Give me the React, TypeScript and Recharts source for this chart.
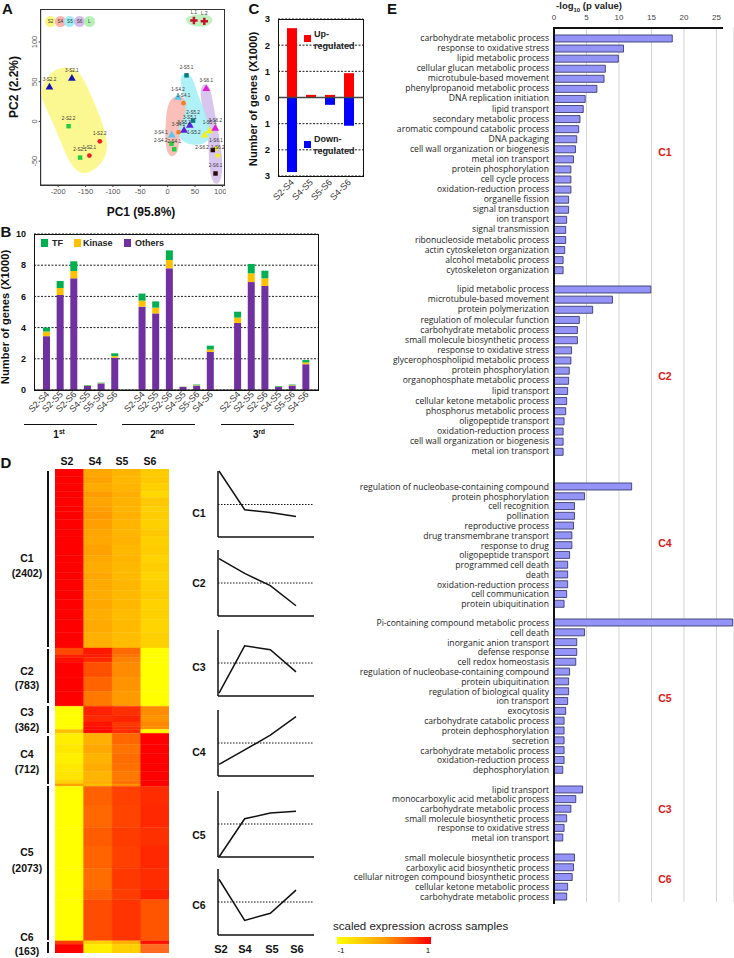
import type { CSSProperties, ReactNode } from "react";
import {
  Bar,
  BarChart,
  CartesianGrid,
  Cell,
  Curve,
  Line,
  LineChart,
  ReferenceLine,
  Scatter,
  ScatterChart,
  Symbols,
  LabelList,
  XAxis,
  YAxis,
} from "recharts";

const SANS = "'Liberation Sans', Arial, sans-serif";
const LABEL_FONT = "'Open Sans', sans-serif";

// Panel A, PCA samples
const s2BlueTriangles = [
  { name: "3-S2.1", x: -175, y: 54 },
  { name: "3-S2.2", x: -216, y: 43 },
];
const greenSquares = [
  { name: "2-S2.2", x: -181, y: -6 },
  { name: "2-S2.1", x: -160, y: -45.5 },
  { name: "2-S4.2", x: 7, y: -28 },
  { name: "2-S4.1", x: 12, y: -35 },
];
const redCircles = [
  { name: "1-S2.2", x: -124, y: -25 },
  { name: "1-S2.1", x: -143, y: -43 },
];
const s4CyanTriangles = [
  { name: "1-S4.2", x: 19, y: 30 },
  { name: "3-S4.1", x: 7.5, y: -17.5 },
];
const s4OrangeCircles = [
  { name: "1-S4.1", x: 29, y: 23 },
  { name: "3-S4.2", x: 20, y: -13.5 },
];
const s5TealSquares = [
  { name: "2-S5.1", x: 34.5, y: 58 },
  { name: "2-S5.2", x: 46.5, y: 1 },
];
const s5PurpleTriangles = [
  { name: "3-S5.1", x: 40.5, y: -5 },
  { name: "3-S5.2", x: 30, y: -11.5 },
];
const s5YellowTriangles = [
  { name: "1-S5.1", x: 76.5, y: -12 },
  { name: "1-S5.2", x: 67.5, y: -17.5 },
];
const s6MagentaTriangles = [
  { name: "3-S6.1", x: 70.5, y: 41 },
  { name: "3-S6.2", x: 87, y: -9 },
];
const s6YellowCircles = [
  { name: "1-S6.1", x: 88.5, y: -34 },
  { name: "1-S6.2", x: 91.5, y: -43 },
];
const s6DarkSquares = [
  { name: "2-S6.2", x: 82.5, y: -36 },
  { name: "2-S6.1", x: 87.5, y: -65.5 },
];
const leafMarks = [
  { name: "L.1", x: 48, y: 127 },
  { name: "L.2", x: 67, y: 126 },
];
const leftLabelled = ["3-S4.1", "2-S4.2", "2-S6.2", "1-S5.2"];

const s2Hull = [
  { x: -232, y: 44 }, { x: -205, y: 70 }, { x: -165, y: 68 }, { x: -148, y: 46 }, { x: -114, y: -8 },
  { x: -105, y: -45 }, { x: -150, y: -72 }, { x: -180, y: -55 }, { x: -202, y: -12 }, { x: -232, y: 29 },
];
const s4Hull = [
  { x: 3, y: 29 }, { x: 24, y: 35 }, { x: 42, y: 21 }, { x: 21, y: -12 }, { x: 21, y: -41 },
  { x: 3, y: -47 }, { x: -6, y: -28 }, { x: -3, y: 9 },
];
const s5Hull = [
  { x: 18, y: 60 }, { x: 45, y: 62 }, { x: 54, y: 33 }, { x: 84, y: -12 }, { x: 72, y: -30 },
  { x: 30, y: -30 }, { x: 12, y: -12 }, { x: 36, y: 9 }, { x: 30, y: 33 },
];
const s6Hull = [
  { x: 60, y: 48 }, { x: 78, y: 48 }, { x: 84, y: 17 }, { x: 102, y: -45 }, { x: 99, y: -80 },
  { x: 78, y: -80 }, { x: 75, y: -36 }, { x: 72, y: -4 }, { x: 60, y: 25 },
];
const leafHull = [
  { x: 33, y: 133 }, { x: 72, y: 136 }, { x: 87, y: 128 }, { x: 72, y: 118 }, { x: 42, y: 120 }, { x: 33, y: 126 },
];
const pcaXTicks = [-200, -150, -100, -50, 0, 50, 100];
const pcaYTicks = [-50, 0, 50, 100];
const hullNames = ["S2", "S4", "S5", "S6", "L"];
const hullColors = ["#fbf77e", "#f8b4ac", "#a2eef6", "#d2bcec", "#b4f0b4"];

// Panel B, differentially expressed genes per comparison
const comparisons = ["S2-S4", "S2-S5", "S2-S6", "S4-S5", "S5-S6", "S4-S6"];
const others = [3.45, 6.09, 7.16, 0.27, 0.42, 2.07, 0, 5.34, 4.91, 7.8, 0.2, 0.28, 2.44, 0, 4.3, 6.92, 6.67, 0.2, 0.28, 1.65];
const kinase = [0.3, 0.45, 0.47, 0.02, 0.02, 0.1, 0, 0.39, 0.37, 0.53, 0.01, 0.03, 0.16, 0, 0.34, 0.56, 0.49, 0.02, 0.03, 0.12];
const tf = [0.25, 0.45, 0.62, 0.03, 0.03, 0.18, 0, 0.45, 0.4, 0.62, 0.01, 0.04, 0.24, 0, 0.38, 0.6, 0.49, 0.04, 0.04, 0.15];
const replicateLabels = [...comparisons, "", ...comparisons, "", ...comparisons];
const deData = replicateLabels.map((name, i) => ({ name, others: others[i], kinase: kinase[i], tf: tf[i] }));

// Panel C
const pairNames = ["S2-S4", "S4-S5", "S5-S6", "S4-S6"];
const upRegulated = [2.65, 0.1, 0.1, 0.93];
const downRegulated = [-2.85, 0, -0.28, -1.08];
const regulationData = pairNames.map((name, i) => ({ name, up: upRegulated[i], down: downRegulated[i] }));

// Panel D, heatmap rows, sized in genes
const heatStages = ["S2", "S4", "S5", "S6"];
const c1Sizes = [100, 90, 110, 80, 120, 70, 110, 130, 90, 120, 140, 100, 130, 90, 150, 120, 140, 130, 170, 212];
const c1S4 = ["#ffa600", "#ffa200", "#ffac00", "#ff9c00", "#ffa400", "#ffa000", "#ff9a00", "#ffa000", "#ffa400", "#ffa800", "#ffa200", "#ffa800", "#ffac00", "#ffa600", "#ffaa00", "#ffac00", "#ffa800", "#ffae00", "#ffaa00", "#ffb000"];
const c1S5 = ["#ffb400", "#ffb800", "#ffb400", "#ffae00", "#ffb200", "#ffb400", "#ffb000", "#ffb400", "#ffb600", "#ffb200", "#ffb800", "#ffb400", "#ffb800", "#ffba00", "#ffb600", "#ffba00", "#ffb800", "#ffbc00", "#ffba00", "#ffbc00"];
const c1S6 = ["#ffcc00", "#ffc800", "#ffd000", "#ffd800", "#ffc800", "#ffd000", "#ffcc00", "#ffd000", "#ffc800", "#ffd000", "#ffcc00", "#ffd200", "#ffce00", "#ffd400", "#ffd000", "#ffcc00", "#ffd200", "#ffd000", "#ffd400", "#ffd000"];
const c1Rows = c1Sizes.map((size, i) => ({ size, colors: ["#ff0000", c1S4[i], c1S5[i], c1S6[i]] }));
const c2Rows = [
  { size: 90, colors: ["#ff4800", "#ff1800", "#ff6a00", "#ffff00"] },
  { size: 40, colors: ["#ff2000", "#ff1c00", "#ff7400", "#ffff00"] },
  { size: 60, colors: ["#ff1000", "#ff2800", "#ff8000", "#ffff00"] },
  { size: 200, colors: ["#ff0000", "#ff5000", "#ff8c00", "#ffff00"] },
  { size: 190, colors: ["#ff0000", "#ff6400", "#ff9400", "#ffff00"] },
  { size: 203, colors: ["#ff0000", "#ff7800", "#ff9a00", "#ffff00"] },
];
const c3Rows = [
  { size: 120, colors: ["#ffff00", "#ff2000", "#ff3000", "#ff8c00"] },
  { size: 90, colors: ["#ffff00", "#ff2800", "#ff2400", "#ff9400"] },
  { size: 60, colors: ["#ffff00", "#ff1400", "#ff3800", "#ff8800"] },
  { size: 40, colors: ["#ffff00", "#ff0c00", "#ff3000", "#ff9000"] },
  { size: 52, colors: ["#ffc000", "#ff0800", "#ff2c00", "#ffff00"] },
];
const c4Rows = [
  { size: 150, colors: ["#ffee00", "#ffb000", "#ff6800", "#ff0000"] },
  { size: 120, colors: ["#ffe800", "#ffa800", "#ff7400", "#ff0000"] },
  { size: 130, colors: ["#fff000", "#ffb400", "#ff6c00", "#ff0000"] },
  { size: 110, colors: ["#ffe800", "#ffac00", "#ff7000", "#ff0000"] },
  { size: 120, colors: ["#ffe400", "#ffb400", "#ff7800", "#ff0000"] },
  { size: 50, colors: ["#ffd000", "#ffb000", "#ff7000", "#ff0000"] },
  { size: 32, colors: ["#ffa000", "#ffc000", "#ff9000", "#ff0000"] },
];
const c5Rows = [
  { size: 250, colors: ["#ffff00", "#ff6000", "#ff4000", "#ff2c00"] },
  { size: 300, colors: ["#ffff00", "#ff6800", "#ff4400", "#ff2800"] },
  { size: 250, colors: ["#ffff00", "#ff5c00", "#ff3c00", "#ff3000"] },
  { size: 300, colors: ["#ffff00", "#ff6400", "#ff4000", "#ff2800"] },
  { size: 280, colors: ["#ffff00", "#ff6c00", "#ff3800", "#ff2c00"] },
  { size: 140, colors: ["#ffff00", "#ff6000", "#ff3c00", "#ff2000"] },
  { size: 553, colors: ["#ffff00", "#ff4c00", "#ff3400", "#ff5400"] },
];
const c6Rows = [
  { size: 45, colors: ["#ff4000", "#ffd000", "#ffb000", "#ff1000"] },
  { size: 118, colors: ["#ff0000", "#ffee00", "#ffd000", "#ff6a20"] },
];
const heatRows = [...c1Rows, ...c2Rows, ...c3Rows, ...c4Rows, ...c5Rows, ...c6Rows];
const heatData = heatStages.map((stage) => {
  const row: Record<string, number | string> = { stage };
  heatRows.forEach((r, i) => {
    row[`r${i}`] = r.size;
  });
  return row;
});
const geneTotal = 6495;

// Panel D, cluster trends
const trendStages = ["S2", "S4", "S5", "S6"];
const trendC1 = [1.03, -0.16, -0.25, -0.37];
const trendC2 = [0.74, 0.29, -0.08, -0.69];
const trendC3 = [-0.91, 0.52, 0.4, -0.27];
const trendC4 = [-0.65, -0.21, 0.24, 0.8];
const trendC5 = [-1.0, 0.16, 0.33, 0.39];
const trendC6 = [0.69, -0.56, -0.34, 0.36];

// Panel E, GO enrichment
const c1Terms = ["carbohydrate metabolic process", "response to oxidative stress", "lipid metabolic process", "cellular glucan metabolic process", "microtubule-based movement", "phenylpropanoid metabolic process", "DNA replication initiation", "lipid transport", "secondary metabolic process", "aromatic compound catabolic process", "DNA packaging", "cell wall organization or biogenesis", "metal ion transport", "protein phosphorylation", "cell cycle process", "oxidation-reduction process", "organelle fission", "signal transduction", "ion transport", "signal transmission", "ribonucleoside metabolic process", "actin cytoskeleton organization", "alcohol metabolic process", "cytoskeleton organization"];
const c1Scores = [18.2, 10.7, 9.9, 7.9, 7.7, 6.6, 4.8, 4.5, 4.0, 3.8, 3.5, 3.3, 3.0, 2.6, 2.6, 2.6, 2.25, 2.25, 1.95, 1.8, 1.8, 1.65, 1.4, 1.4];
const c2Terms = ["lipid metabolic process", "microtubule-based movement", "protein polymerization", "regulation of molecular function", "carbohydrate metabolic process", "small molecule biosynthetic process", "response to oxidative stress", "glycerophospholipid metabolic process", "protein phosphorylation", "organophosphate metabolic process", "lipid transport", "cellular ketone metabolic process", "phosphorus metabolic process", "oligopeptide transport", "oxidation-reduction process", "cell wall organization or biogenesis", "metal ion transport"];
const c2Scores = [14.9, 9.0, 5.95, 3.9, 3.6, 3.6, 2.7, 2.6, 2.35, 2.25, 2.1, 1.95, 1.8, 1.55, 1.4, 1.4, 1.4];
const c4Terms = ["regulation of nucleobase-containing compound", "protein phosphorylation", "cell recognition", "pollination", "reproductive process", "drug transmembrane transport", "response to drug", "oligopeptide transport", "programmed cell death", "death", "oxidation-reduction process", "cell communication", "protein ubiquitination"];
const c4Scores = [11.95, 4.7, 3.15, 3.15, 3.0, 2.75, 2.75, 2.4, 2.1, 2.1, 2.1, 1.95, 1.55];
const c5Terms = ["Pi-containing compound metabolic process", "cell death", "inorganic anion transport", "defense response", "cell redox homeostasis", "regulation of nucleobase-containing compound", "protein ubiquitination", "regulation of biological quality", "ion transport", "exocytosis", "carbohydrate catabolic process", "protein dephosphorylation", "secretion", "carbohydrate metabolic process", "oxidation-reduction process", "dephosphorylation"];
const c5Scores = [27.5, 4.7, 3.5, 3.5, 3.35, 2.4, 2.25, 2.25, 2.1, 1.8, 1.55, 1.55, 1.55, 1.55, 1.55, 1.35];
const c3Terms = ["lipid transport", "monocarboxylic acid metabolic process", "carbohydrate metabolic process", "small molecule biosynthetic process", "response to oxidative stress", "metal ion transport"];
const c3Scores = [4.4, 3.35, 2.6, 1.95, 1.55, 1.35];
const c6Terms = ["small molecule biosynthetic process", "carboxylic acid biosynthetic process", "cellular nitrogen compound biosynthetic process", "cellular ketone metabolic process", "carbohydrate metabolic process"];
const c6Scores = [3.15, 3.0, 2.8, 2.1, 1.95];
const enrichTicks = [0, 5, 10, 15, 20, 25];
const enrichMax = 27.7;

function T({ x, y, size, bold, color, rotate, family, children, anchor }: {
  x: number; y: number; size: number; bold?: boolean; color?: string; rotate?: number; family?: string; anchor?: "start" | "middle"; children: ReactNode;
}) {
  const shift = anchor === "start" ? "translate(0,-50%)" : "translate(-50%,-50%)";
  const style: CSSProperties = {
    position: "absolute", left: x, top: y, fontSize: size, fontWeight: bold ? 700 : 400,
    color: color ?? "#111", fontFamily: family ?? SANS, whiteSpace: "nowrap", lineHeight: 1,
    transform: `${shift}${rotate ? ` rotate(${rotate}deg)` : ""}`,
  };
  return <div style={style}>{children}</div>;
}

function Box({ x, y, w, h, color, border }: { x: number; y: number; w: number; h: number; color?: string; border?: string }) {
  return (
    <div style={{ position: "absolute", left: x, top: y, width: w, height: h, background: color, border, boxSizing: "border-box" }} />
  );
}

const hullShape = (fill: string) => (props: any) =>
  <Curve points={props.points} type="basisClosed" fill={fill} fillOpacity={0.85} stroke="none" />;

const markShape = (type: any, fill: string, size: number) => (props: any) =>
  <Symbols cx={props.cx} cy={props.cy} type={type} size={size} fill={fill} />;

function pointLabel(props: any) {
  const { x, y, width, value } = props;
  const cx = x + (width ?? 0) / 2;
  const left = leftLabelled.includes(value);
  return (
    <text x={left ? cx - 4 : cx} y={left ? y + 3 : y - 2} fontSize={4.6} fill="#333" textAnchor={left ? "end" : "middle"} fontFamily={SANS}>
      {value}
    </text>
  );
}

function angledTick(props: any) {
  const { x, y, payload } = props;
  return (
    <text x={x + 3} y={y + 4} fontSize={9} fill="#333" fontFamily={SANS} textAnchor="end" transform={`rotate(-45 ${x + 3} ${y + 4})`}>
      {payload.value}
    </text>
  );
}

function PcaPanel() {
  const series: [any[], string, string, number][] = [
    [s2BlueTriangles, "#1414b4", "triangle", 26],
    [greenSquares, "#20d040", "square", 20],
    [redCircles, "#ee1c25", "circle", 18],
    [s4CyanTriangles, "#55c8ee", "triangle", 26],
    [s4OrangeCircles, "#f58220", "circle", 18],
    [s5TealSquares, "#0a7a7a", "square", 20],
    [s5PurpleTriangles, "#5a20dc", "triangle", 26],
    [s5YellowTriangles, "#f0f020", "triangle", 26],
    [s6MagentaTriangles, "#e020d0", "triangle", 26],
    [s6YellowCircles, "#f0f020", "circle", 18],
    [s6DarkSquares, "#2a0a0a", "square", 20],
    [leafMarks, "#c8102e", "cross", 30],
  ];
  const hulls = [s2Hull, s4Hull, s6Hull, s5Hull, leafHull];
  const hullFills = [hullColors[0], hullColors[1], hullColors[3], hullColors[2], hullColors[4]];
  return (
    <div style={{ position: "absolute", left: 0, top: 0 }}>
      <ScatterChart width={226} height={210} margin={{ top: 9, right: 2, bottom: 0, left: 0 }}>
        <XAxis type="number" dataKey="x" domain={[-227.6, 103]} ticks={pcaXTicks} height={25} tickSize={2}
          tick={{ fontSize: 7.5, fill: "#555", fontFamily: SANS }} stroke="#333" />
        <YAxis type="number" dataKey="y" domain={[-75.5, 141.5]} ticks={pcaYTicks} width={40.7} tickSize={2}
          tick={{ fontSize: 7.5, fill: "#555", fontFamily: SANS, angle: -90, textAnchor: "middle", dx: -2 }} stroke="#333" />
        {hulls.map((data, i) => (
          <Scatter key={`hull${i}`} data={data} isAnimationActive={false} shape={() => <g />} line={hullShape(hullFills[i])} />
        ))}
        {series.map(([data, fill, shape, size], i) => (
          <Scatter key={`pts${i}`} data={data} fill={fill} shape={markShape(shape, fill, size)} isAnimationActive={false}>
            <LabelList dataKey="name" content={pointLabel} />
          </Scatter>
        ))}
      </ScatterChart>
      <Box x={40} y={9} w={184.5} h={176.5} border="1.5px solid #333" />
      {hullNames.map((name, i) => (
        <div key={name} style={{
          position: "absolute", left: 45 + i * 9.7, top: 15.5, width: 11, height: 11, borderRadius: 6,
          background: hullColors[i], fontSize: 4.6, lineHeight: "11px", textAlign: "center", fontFamily: SANS, color: "#333",
        }}>{name}</div>
      ))}
      <T x={141} y={212} size={12} bold>PC1 (95.8%)</T>
      <T x={14} y={87} size={12} bold rotate={-90}>PC2 (2.2%)</T>
    </div>
  );
}

function DePanel() {
  return (
    <div style={{ position: "absolute", left: 0, top: 224 }}>
      <BarChart width={322} height={206} data={deData} margin={{ top: 10, right: 4, bottom: 0, left: 0 }} barSize={7}>
        <CartesianGrid vertical={false} stroke="#000" strokeDasharray="2 1.5" strokeWidth={0.9} />
        <XAxis dataKey="name" interval={0} height={40} tickLine={false} tickSize={0} padding={{ left: 6, right: 5 }} stroke="#222"
          tick={angledTick} tickMargin={1} />
        <YAxis domain={[0, 10]} ticks={[0, 2, 4, 6, 8, 10]} width={34} tickLine={false} axisLine={false}
          tick={{ fontSize: 9, fill: "#111", fontWeight: 700, fontFamily: SANS }} />
        <Bar dataKey="others" stackId="g" fill="#7030a0" isAnimationActive={false} />
        <Bar dataKey="kinase" stackId="g" fill="#ffc000" isAnimationActive={false} />
        <Bar dataKey="tf" stackId="g" fill="#00b050" isAnimationActive={false} />
      </BarChart>
    </div>
  );
}

function DeDecor() {
  const legend: [string, string, number, number][] = [
    ["TF", "#00b050", 41, 52],
    ["Kinase", "#ffc000", 74, 83],
    ["Others", "#7030a0", 124, 135],
  ];
  const runs: [string, string, number, number][] = [
    ["1", "st", 23.5, 59],
    ["2", "nd", 122, 157],
    ["3", "rd", 220.5, 259],
  ];
  return (
    <>
      <Box x={33.5} y={233.5} w={285} h={157} border="1.5px solid #111" />
      {legend.map(([name, color, sx, tx]) => (
        <span key={name}>
          <Box x={sx} y={239} w={6.5} h={8} color={color} />
          <T x={tx} y={243} size={9} bold anchor="start" color="#222">{name}</T>
        </span>
      ))}
      {runs.map(([n, s, lx, tx]) => (
        <span key={n}>
          <Box x={lx} y={423.5} w={73} h={1.3} color="#111" />
          <T x={tx} y={435} size={10} bold>{n}<sup style={{ fontSize: 6.5, lineHeight: 0 }}>{s}</sup></T>
        </span>
      ))}
      <T x={6} y={317} size={11.2} bold rotate={-90}>Number of genes (X1000)</T>
    </>
  );
}

function RegulationPanel() {
  return (
    <div style={{ position: "absolute", left: 240, top: 9 }}>
      <BarChart width={126} height={208} data={regulationData} margin={{ top: 10, right: 3, bottom: 0, left: 0 }} barSize={10} stackOffset="sign">
        <CartesianGrid vertical={false} stroke="#000" strokeDasharray="2 1.5" strokeWidth={0.9} />
        <XAxis dataKey="name" interval={0} height={41} tickLine={false} tickSize={0} axisLine={false} padding={{ left: 4, right: 5 }}
          tick={angledTick} tickMargin={3} />
        <YAxis domain={[-3, 3]} ticks={[-3, -2, -1, 0, 1, 2, 3]} width={38} tickLine={false} axisLine={false} tickFormatter={(v: number) => `${Math.abs(v)}`}
          tick={{ fontSize: 9.5, fill: "#111", fontWeight: 700, fontFamily: SANS }} />
        <Bar dataKey="up" stackId="r" fill="#ff0000" isAnimationActive={false} />
        <Bar dataKey="down" stackId="r" fill="#0000ff" isAnimationActive={false} />
        <ReferenceLine y={0} stroke="#444" strokeWidth={1.6} />
      </BarChart>
    </div>
  );
}

function RegulationDecor() {
  return (
    <>
      <Box x={277.5} y={18.5} w={86} h={158} border="1.5px solid #111" />
      <Box x={304} y={35} w={7} h={7} color="#ff0000" />
      <Box x={304} y={141} w={7} h={7} color="#0000ff" />
      <T x={314} y={33.5} size={9} bold anchor="start" color="#222">Up-</T>
      <T x={314} y={46} size={9} bold anchor="start" color="#222">regulated</T>
      <T x={314} y={139} size={9} bold anchor="start" color="#222">Down-</T>
      <T x={314} y={151} size={9} bold anchor="start" color="#222">regulated</T>
      <T x={254} y={99} size={11.2} bold rotate={-90}>Number of genes (X1000)</T>
    </>
  );
}

function HeatmapPanel() {
  return (
    <div style={{ position: "absolute", left: 55, top: 468.7 }}>
      <BarChart width={114.3} height={484} data={heatData} margin={{ top: 0, right: 0, bottom: 0, left: 0 }} barCategoryGap={0}>
        <XAxis dataKey="stage" hide />
        <YAxis hide reversed domain={[0, geneTotal]} />
        {heatRows.map((r, i) => (
          <Bar key={i} dataKey={`r${i}`} stackId="h" isAnimationActive={false}>
            {r.colors.map((c, j) => (
              <Cell key={j} fill={c} stroke={c} strokeWidth={0.4} />
            ))}
          </Bar>
        ))}
      </BarChart>
    </div>
  );
}

function HeatmapDecor() {
  const heads: [string, number][] = [["S2", 67], ["S4", 95], ["S5", 122], ["S6", 150]];
  const brackets: [number, number][] = [[470.5, 646.5], [648.5, 702.5], [706, 733], [735.5, 783.5], [785.5, 939.5], [941.5, 953]];
  const names: [string, string, number, number][] = [
    ["C1", "(2402)", 558, 573], ["C2", "(783)", 671, 685], ["C3", "(362)", 712, 727],
    ["C4", "(712)", 754, 769], ["C5", "(2073)", 852, 868], ["C6", "(163)", 937, 951],
  ];
  return (
    <>
      {heads.map(([n, x]) => <T key={n} x={x} y={461} size={10.5} bold>{n}</T>)}
      {brackets.map(([a, b]) => <Box key={a} x={47} y={a} w={2} h={b - a} color="#111" />)}
      {names.map(([c, n, y1, y2]) => (
        <span key={c}>
          <T x={27} y={y1} size={10.5} bold>{c}</T>
          <T x={27} y={y2} size={10.5} bold>{n}</T>
        </span>
      ))}
    </>
  );
}

function TrendChart({ values, top }: { values: number[]; top: number }) {
  const data = trendStages.map((stage, i) => ({ stage, v: values[i] }));
  return (
    <div style={{ position: "absolute", left: 216.5, top }}>
      <LineChart width={97} height={68} data={data} margin={{ top: 1, right: 0, bottom: 0, left: 0 }}>
        <XAxis dataKey="stage" hide={false} tick={false} tickLine={false} height={1} padding={{ left: 1, right: 18 }} stroke="#111" strokeWidth={1.5} />
        <YAxis domain={[-1, 1]} tick={false} tickLine={false} width={1} stroke="#111" strokeWidth={1.5} />
        <ReferenceLine y={0} stroke="#111" strokeWidth={1.1} strokeDasharray="1.5 1.5" />
        <Line dataKey="v" stroke="#111" strokeWidth={1.5} dot={false} isAnimationActive={false} />
      </LineChart>
    </div>
  );
}

function TrendPanel() {
  const rows: [string, number[], number, number][] = [
    ["C1", trendC1, 470, 513],
    ["C2", trendC2, 549, 583],
    ["C3", trendC3, 629, 667],
    ["C4", trendC4, 709, 752],
    ["C5", trendC5, 790, 835],
    ["C6", trendC6, 868, 905],
  ];
  const foot: [string, number][] = [["S2", 221], ["S4", 245], ["S5", 272], ["S6", 297]];
  return (
    <>
      {rows.map(([name, values, top, ly]) => (
        <span key={name}>
          <TrendChart values={values} top={top} />
          <T x={199} y={ly} size={10.5} bold>{name}</T>
        </span>
      ))}
      {foot.map(([n, x]) => <T key={n} x={x} y={949} size={11} bold>{n}</T>)}
    </>
  );
}

function EnrichAxis() {
  return (
    <div style={{ position: "absolute", left: 300, top: 8 }}>
      <BarChart width={434} height={894} layout="vertical" data={[{ t: "", v: 0 }]} margin={{ top: 0, right: 0, bottom: 0, left: 0 }}>
        <CartesianGrid horizontal={false} stroke="#d4d4d4" />
        <XAxis type="number" orientation="top" domain={[0, enrichMax]} ticks={enrichTicks} height={19} axisLine={false} tickLine={false}
          tick={{ fontSize: 8, fill: "#444", fontFamily: SANS }} tickMargin={1} />
        <YAxis type="category" dataKey="t" width={254} axisLine={false} tickLine={false} tick={false} />
        <Bar dataKey="v" isAnimationActive={false} />
      </BarChart>
    </div>
  );
}

function termTick(props: any) {
  const { x, y, payload } = props;
  return (
    <text x={x} y={y} dy={3} fontSize={8.6} fill="#222" fontFamily={LABEL_FONT} textAnchor="end">
      {payload.value}
    </text>
  );
}

function EnrichBlock({ terms, scores, first, last }: { terms: string[]; scores: number[]; first: number; last: number }) {
  const step = (last - first) / (terms.length - 1);
  const data = terms.map((term, i) => ({ term, score: scores[i] }));
  return (
    <div style={{ position: "absolute", left: 300, top: first - step / 2 }}>
      <BarChart width={434} height={step * terms.length} layout="vertical" data={data} margin={{ top: 0, right: 0, bottom: 0, left: 0 }}>
        <XAxis type="number" hide domain={[0, enrichMax]} />
        <YAxis type="category" dataKey="term" width={254} interval={0} axisLine={false} tickLine={false} tickSize={0} tickMargin={5} tick={termTick} />
        <Bar dataKey="score" barSize={7} fill="#9494f8" stroke="#3c3c70" strokeWidth={0.9} isAnimationActive={false} />
      </BarChart>
    </div>
  );
}

function EnrichPanel() {
  const tags: [string, number][] = [["C1", 152], ["C2", 376], ["C4", 543], ["C5", 698], ["C3", 809], ["C6", 879]];
  return (
    <>
      <EnrichAxis />
      <EnrichBlock terms={c1Terms} scores={c1Scores} first={38.3} last={270} />
      <EnrichBlock terms={c2Terms} scores={c2Scores} first={288.7} last={451} />
      <EnrichBlock terms={c4Terms} scores={c4Scores} first={486.7} last={604} />
      <EnrichBlock terms={c5Terms} scores={c5Scores} first={622.7} last={770} />
      <EnrichBlock terms={c3Terms} scores={c3Scores} first={790} last={838} />
      <EnrichBlock terms={c6Terms} scores={c6Scores} first={858} last={897} />
      <Box x={553} y={27} w={170} h={1.5} color="#111" />
      <Box x={553} y={27} w={1.5} h={877} color="#111" />
      {tags.map(([n, y]) => <T key={n} x={665} y={y} size={10.5} bold color="#e01818">{n}</T>)}
      <T x={589} y={5.5} size={9.5} bold color="#222">-log<sub style={{ fontSize: 6, lineHeight: 0 }}>10</sub> (p value)</T>
    </>
  );
}

export default function App() {
  return (
    <div style={{ position: "absolute", left: 0, top: 0, width: 734, height: 958, background: "#fff", overflow: "hidden" }}>
      <PcaPanel />
      <DePanel />
      <DeDecor />
      <RegulationPanel />
      <RegulationDecor />
      <HeatmapPanel />
      <HeatmapDecor />
      <TrendPanel />
      <EnrichPanel />
      <T x={333} y={927} size={11.5} anchor="start" color="#222">scaled expression across samples</T>
      <div style={{ position: "absolute", left: 337, top: 937, width: 94, height: 7, background: "linear-gradient(to right, #ffff00, #ffa000, #ff0000)" }} />
      <T x={341} y={951} size={8}>-1</T>
      <T x={428} y={951} size={8}>1</T>
      <T x={7.5} y={8} size={15} bold>A</T>
      <T x={6} y={231} size={15} bold>B</T>
      <T x={254} y={8} size={15} bold>C</T>
      <T x={6} y={462} size={15} bold>D</T>
      <T x={392} y={8} size={15} bold>E</T>
    </div>
  );
}
